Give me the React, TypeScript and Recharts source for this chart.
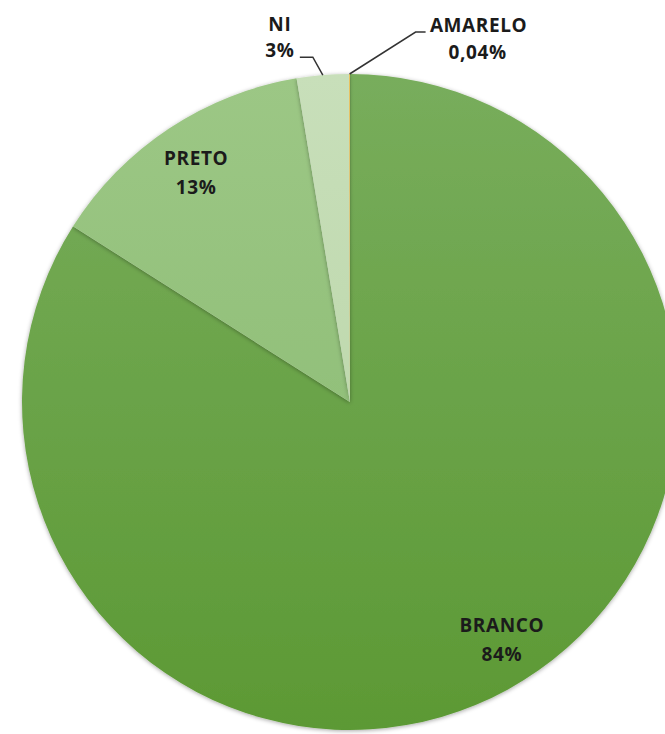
import { PieChart, Pie, Cell } from 'recharts';

// --- data ---
const categories = ['BRANCO', 'PRETO', 'NI', 'AMARELO'];
const shares = [84.0, 13.4, 2.56, 0.04];
const shareLabels = ['84%', '13%', '3%', '0,04%'];

const fills = ['url(#gBranco)', 'url(#gPreto)', 'url(#gNi)', '#f2c04a'];

const data = categories.map((name, i) => ({ name, value: shares[i], label: shareLabels[i] }));

const RAD = Math.PI / 180;
const font = { fontFamily: '"Open Sans", sans-serif', fontWeight: 700, fontSize: 19, letterSpacing: 0.6, fill: '#1b1b1b' };

// Excel nudges the big slice's label a few degrees off its mid angle
const angleNudge = [4.2, 0];

function renderLabel(props: any) {
  const { cx, cy, midAngle, outerRadius, index } = props;
  const d = data[index];

  // inside labels for the big slices
  if (index < 2) {
    const a = (midAngle + angleNudge[index]) * RAD;
    const r = outerRadius * 0.85;
    const x = cx + r * Math.cos(a);
    const y = cy - r * Math.sin(a);
    return (
      <g key={`lbl-${index}`}>
        <text x={x} y={y - 4} textAnchor="middle" style={font}>{d.name}</text>
        <text x={x} y={y + 25} textAnchor="middle" style={font}>{d.label}</text>
      </g>
    );
  }

  // outside labels with leader lines for the thin ones
  const ox = cx + outerRadius * Math.cos(midAngle * RAD);
  const oy = cy - outerRadius * Math.sin(midAngle * RAD);
  if (index === 2) {
    const ex = ox - 10, ey = oy - 18;
    const tx = ex - 13;
    return (
      <g key={`lbl-${index}`}>
        <polyline points={`${ox},${oy} ${ex},${ey} ${tx},${ey}`} fill="none" stroke="#333" strokeWidth={1.5} />
        <text x={tx - 20} y={oy - 44} textAnchor="middle" style={font}>{d.name}</text>
        <text x={tx - 20} y={oy - 18} textAnchor="middle" style={font}>{d.label}</text>
      </g>
    );
  }
  const ex = ox + 66, ey = oy - 42;
  const tx = ex + 10;
  return (
    <g key={`lbl-${index}`}>
      <polyline points={`${ox},${oy} ${ex},${ey} ${tx},${ey}`} fill="none" stroke="#333" strokeWidth={1.5} />
      <text x={tx + 53} y={oy - 42} textAnchor="middle" style={font}>{d.name}</text>
      <text x={tx + 52} y={oy - 15} textAnchor="middle" style={font}>{d.label}</text>
    </g>
  );
}

export default function App() {
  return (
    <div style={{ position: 'absolute', left: 0, top: 0, width: 665, height: 734, background: '#fff', overflow: 'hidden' }}>
      <PieChart width={665} height={734} margin={{ top: 0, right: 0, bottom: 0, left: 0 }}>
        <defs>
          <linearGradient id="gBranco" x1="0" y1="0" x2="0" y2="1">
            <stop offset="0%" stopColor="#78ad5c" />
            <stop offset="100%" stopColor="#5c9934" />
          </linearGradient>
          <linearGradient id="gPreto" x1="0" y1="0" x2="0" y2="1">
            <stop offset="0%" stopColor="#9cc785" />
            <stop offset="100%" stopColor="#92c07a" />
          </linearGradient>
          <linearGradient id="gNi" x1="0" y1="0" x2="0" y2="1">
            <stop offset="0%" stopColor="#c8dfba" />
            <stop offset="100%" stopColor="#bfd9ae" />
          </linearGradient>
          <filter id="pieShadow" x="-10%" y="-10%" width="120%" height="120%">
            <feDropShadow dx="0" dy="1" stdDeviation="2" floodColor="#000" floodOpacity="0.35" />
          </filter>
        </defs>
        <Pie
          data={data}
          dataKey="value"
          nameKey="name"
          cx={350}
          cy={402}
          outerRadius={328}
          startAngle={90}
          endAngle={-270}
          stroke="none"
          label={renderLabel}
          labelLine={false}
          isAnimationActive={false}
          style={{ filter: 'url(#pieShadow)' }}
        >
          {data.map((entry, i) => (
            <Cell key={entry.name} fill={fills[i]} />
          ))}
        </Pie>
      </PieChart>
    </div>
  );
}
